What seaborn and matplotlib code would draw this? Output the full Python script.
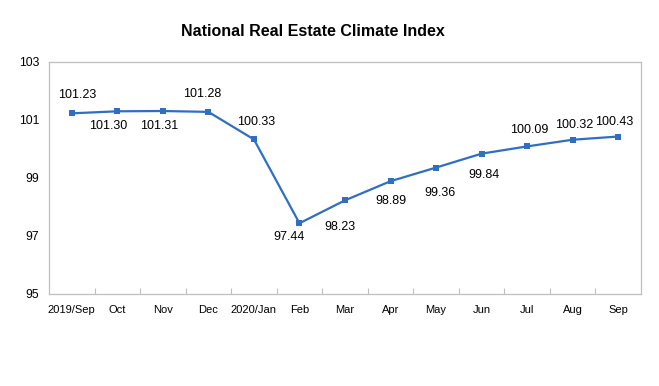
import matplotlib
matplotlib.use("Agg")
import matplotlib.pyplot as plt
import seaborn as sns
import pandas as pd
from matplotlib.ticker import FixedLocator

months = ["2019/Sep", "Oct", "Nov", "Dec", "2020/Jan", "Feb", "Mar",
          "Apr", "May", "Jun", "Jul", "Aug", "Sep"]
index_values = [101.23, 101.30, 101.31, 101.28, 100.33, 97.44, 98.23,
                98.89, 99.36, 99.84, 100.09, 100.32, 100.43]
y_ticks = [95, 97, 99, 101, 103]
title = "National Real Estate Climate Index"

# label offsets in pixels (dx, dy downward positive)
label_offsets_px = [(5, -18), (-9, 15), (-4, 15), (-6, -18), (2, -17),
                    (-10, 14), (-5, 27), (0, 20), (4, 25), (2, 21),
                    (2, -16), (1, -15), (-4, -15)]

sns.set_theme(style="white")
plt.rcParams["font.family"] = ["Liberation Sans", "DejaVu Sans"]

df = pd.DataFrame({"month": months, "value": index_values})

fig = plt.figure(figsize=(6.59, 3.86), dpi=100)
ax = fig.add_axes([49 / 659, 1 - 294 / 386, (641 - 49) / 659, (294 - 62) / 386])

color = "#2E6FC4"
sns.lineplot(data=df, x="month", y="value", ax=ax, color=color, linewidth=1.6,
             marker="s", markersize=4.5, markeredgewidth=0, sort=False)

for i, (v, (dx, dy)) in enumerate(zip(index_values, label_offsets_px)):
    ax.annotate(f"{v:.2f}", (i, v), xytext=(dx * 0.72, -dy * 0.72),
                textcoords="offset points", ha="center", va="center",
                fontsize=9, color="#000000")

ax.set_xlim(-0.5, len(months) - 0.5)
ax.set_ylim(95, 103)
ax.set_yticks(y_ticks)
ax.set_yticklabels([str(t) for t in y_ticks])
ax.set_xticks(range(len(months)))
ax.set_xticklabels(months)
ax.xaxis.set_minor_locator(FixedLocator([i + 0.5 for i in range(len(months) - 1)]))
ax.tick_params(axis="x", which="major", length=0, pad=8, labelsize=8, colors="#000000")
ax.tick_params(axis="x", which="minor", direction="in", length=4.5, width=0.8,
               color="#BFBFBF", bottom=True)
ax.tick_params(axis="y", length=0, pad=7, labelsize=8.8, colors="#000000")
ax.set_xlabel("")
ax.set_ylabel("")
ax.grid(False)
for s in ax.spines.values():
    s.set_visible(True)
    s.set_color("#BFBFBF")
    s.set_linewidth(0.9)

fig.text(313 / 659, 1 - 32 / 386, title, ha="center", va="center",
         fontsize=11.5, fontweight="bold", color="#000000")

fig.savefig("out.png", dpi=100, facecolor="white")
